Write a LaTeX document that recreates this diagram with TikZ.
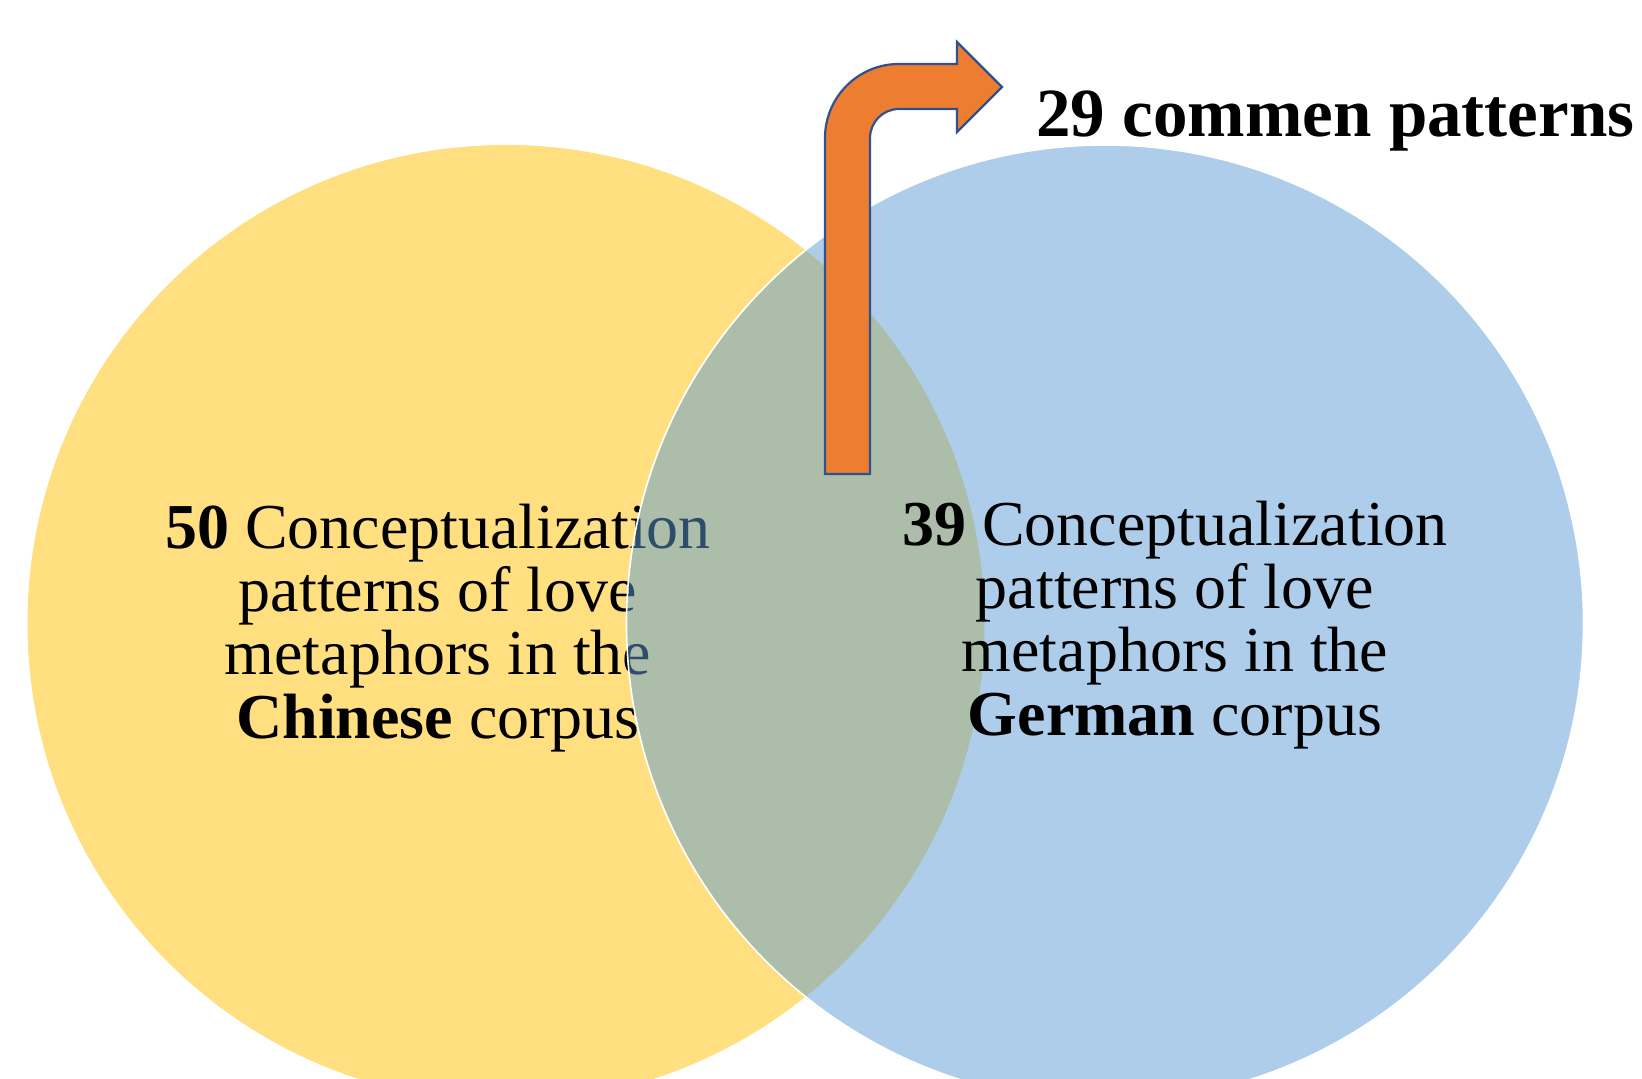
\documentclass[tikz,border=0pt]{standalone}
\usepackage{fontspec}
\setmainfont{Liberation Serif}
\usepackage{xcolor}
\definecolor{gold}{HTML}{FFC000}
\definecolor{skyblue}{HTML}{5B9BD5}
\definecolor{orangeA}{HTML}{ED7D31}
\definecolor{navy}{HTML}{2F528F}
\tikzset{
  setChinese/.style={fill=gold, fill opacity=0.5},
  setGerman/.style={fill=skyblue, fill opacity=0.5, draw=white, line width=0.8pt},
  settext/.style={align=center, inner sep=0pt, font=\fontsize{32}{31.6}\selectfont},
  headline/.style={anchor=base west, inner sep=0pt, font=\fontsize{34.5}{40}\selectfont\bfseries},
  bentarrow/.style={fill=orangeA, draw=navy, line width=1.1pt, line join=miter},
}
\begin{document}
\begin{tikzpicture}[x=0.5pt, y=0.5pt]
\useasboundingbox (0,0) rectangle (1642,1079);
\begin{scope}
\clip (0,0) rectangle (1642,1079);
\fill[setChinese] (506,455.5) circle[radius=478.5];
\node[settext] (chinese) at (438,451) {\textbf{50} Conceptualization\\patterns of love\\metaphors in the\\\textbf{Chinese} corpus};
\filldraw[setGerman] (1105,455.5) circle[radius=478.5];
\end{scope}
\node[settext] (german) at (1175,454) {\textbf{39} Conceptualization\\patterns of love\\metaphors in the\\\textbf{German} corpus};
% arrow up to the common part
\draw[bentarrow] (825,605) -- (825,941) arc[start angle=180, end angle=90, radius=74]
  -- (957,1015) -- (957,1037) -- (1002,992) -- (957,947) -- (957,970) -- (899,970)
  arc[start angle=90, end angle=180, radius=29] -- (870,605) -- cycle;
\node[headline] (common) at (1036,942) {29 commen patterns};
\end{tikzpicture}
\end{document}
